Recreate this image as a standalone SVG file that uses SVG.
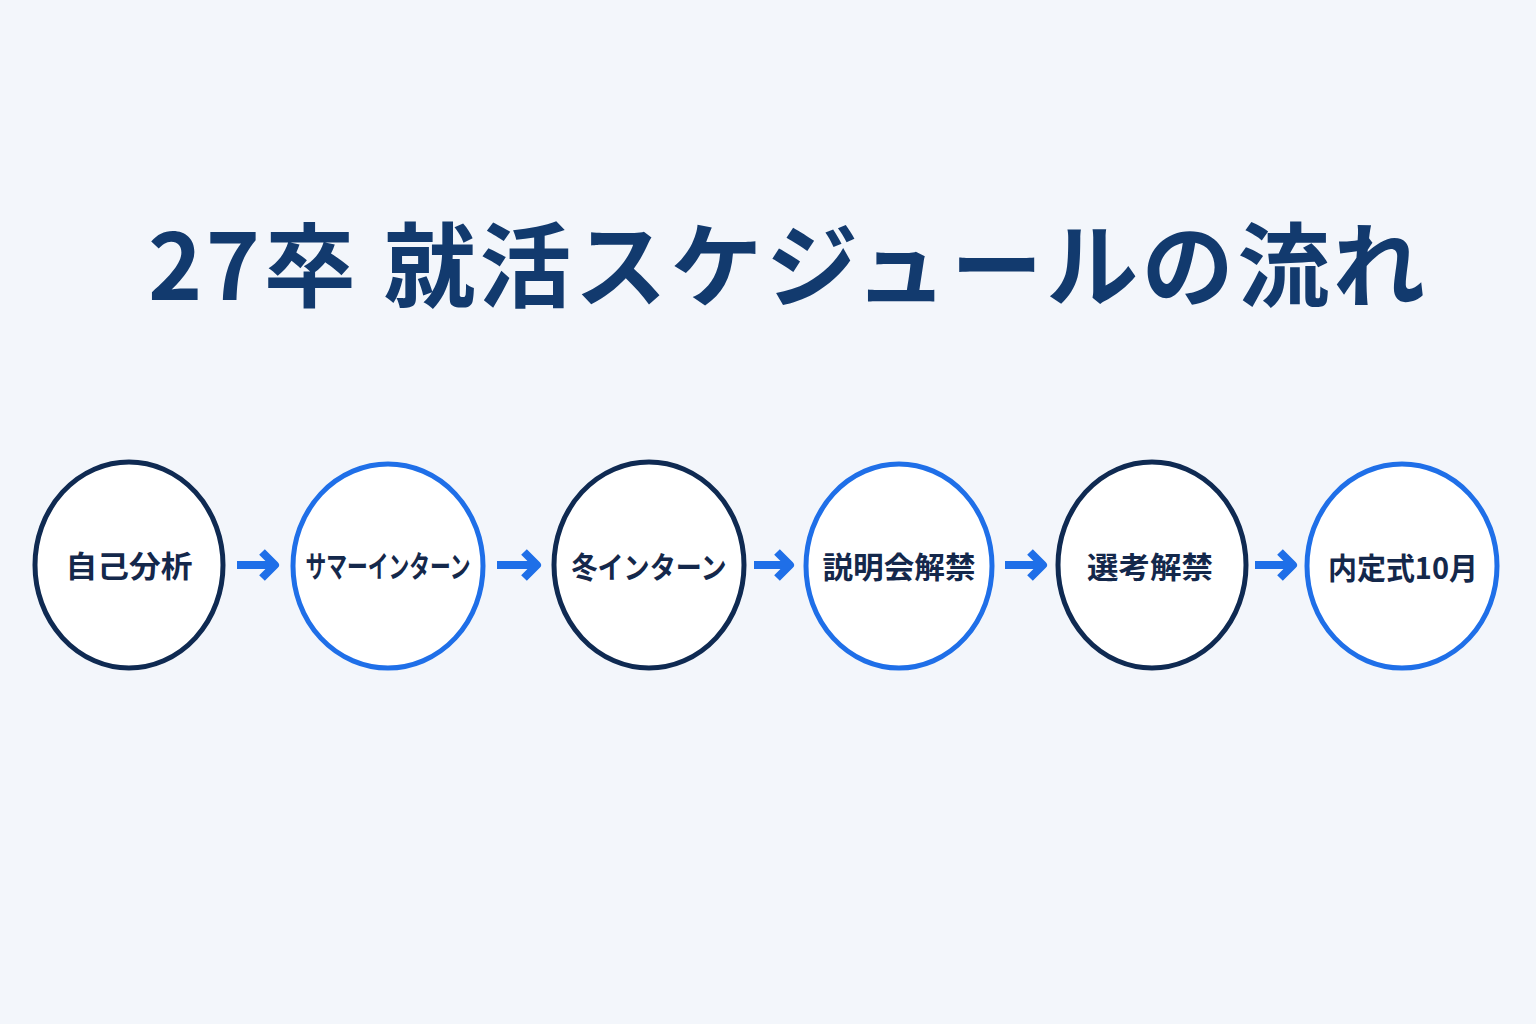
<svg xmlns="http://www.w3.org/2000/svg" width="1536" height="1024" viewBox="0 0 1536 1024">
<defs>
<style>
.bg{fill:#f3f6fb}
.title{font-family:"Noto Sans CJK JP","Noto Sans",sans-serif;font-weight:700;font-size:92px;fill:#123a6e}
.node{fill:#ffffff;stroke-width:5}
.dark{stroke:#0f2a52}
.blue{stroke:#1f6fe8}
.lbl{font-family:"Noto Sans CJK JP","Noto Sans",sans-serif;font-weight:700;font-size:30px;fill:#14284b;text-anchor:middle}
.arr{fill:none;stroke:#1f6fe8;stroke-width:8;stroke-linecap:butt;stroke-linejoin:round}
</style>
</defs>
<rect class="bg" x="0" y="0" width="1536" height="1024"/>
<text class="title" x="148" y="300" textLength="1277" lengthAdjust="spacing">27卒 就活スケジュールの流れ</text>
<g id="connectors">
<path class="arr" d="M237 565H272M262 552L275 565L262 578"/>
<path class="arr" d="M497 565H534M524 552L537 565L524 578"/>
<path class="arr" d="M754 565H787M777 552L790 565L777 578"/>
<path class="arr" d="M1005 565H1040M1030 552L1043 565L1030 578"/>
<path class="arr" d="M1255 565H1290M1280 552L1293 565L1280 578"/>
</g>
<g id="n1"><ellipse class="node dark" cx="129" cy="565" rx="94" ry="103"/><text class="lbl" x="129" y="577" textLength="127" lengthAdjust="spacingAndGlyphs">自己分析</text></g>
<g id="n2"><ellipse class="node blue" cx="388" cy="566" rx="95" ry="102"/><text class="lbl" x="388" y="577" textLength="165" lengthAdjust="spacingAndGlyphs">サマーインターン</text></g>
<g id="n3"><ellipse class="node dark" cx="649" cy="565" rx="95" ry="103"/><text class="lbl" x="649" y="578" textLength="155" lengthAdjust="spacingAndGlyphs">冬インターン</text></g>
<g id="n4"><ellipse class="node blue" cx="899" cy="566" rx="93" ry="102"/><text class="lbl" x="899" y="578" textLength="153" lengthAdjust="spacingAndGlyphs">説明会解禁</text></g>
<g id="n5"><ellipse class="node dark" cx="1152" cy="565" rx="94" ry="103"/><text class="lbl" x="1150" y="578" textLength="126" lengthAdjust="spacingAndGlyphs">選考解禁</text></g>
<g id="n6"><ellipse class="node blue" cx="1402" cy="566" rx="95" ry="102"/><text class="lbl" x="1403" y="579" textLength="150" lengthAdjust="spacingAndGlyphs">内定式10月</text></g>
</svg>
